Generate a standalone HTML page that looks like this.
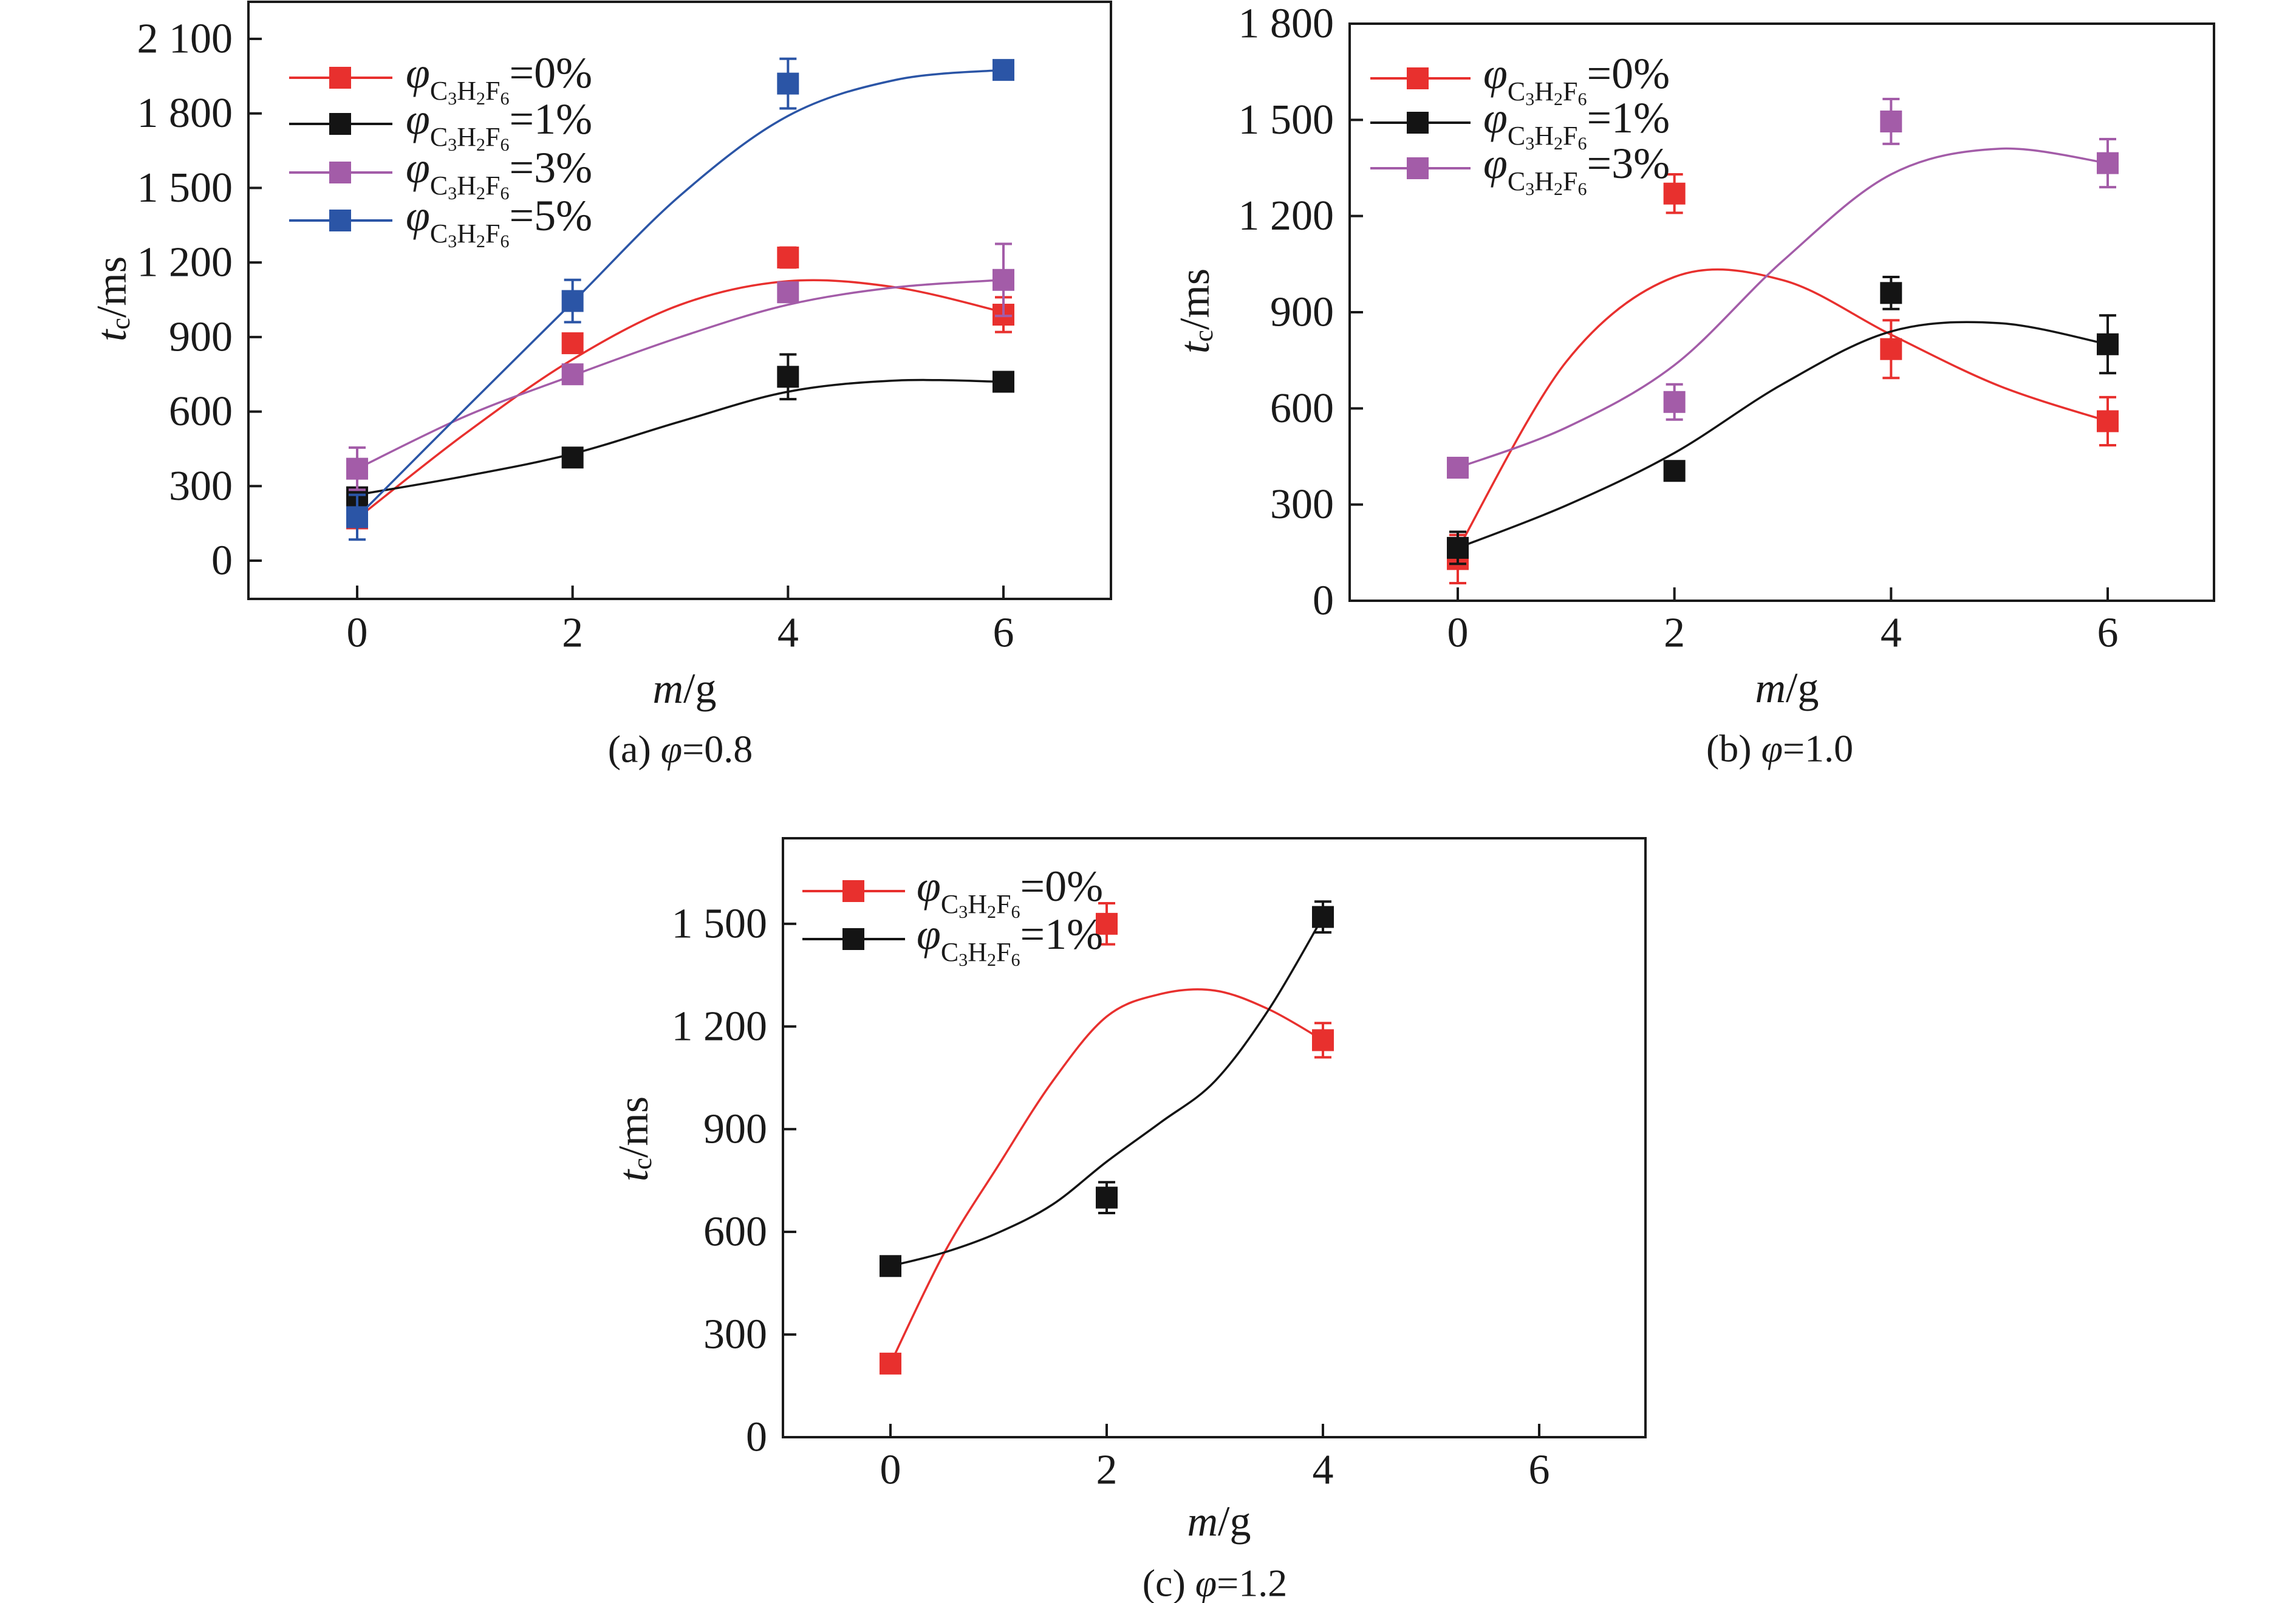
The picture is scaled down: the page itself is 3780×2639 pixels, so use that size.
<!DOCTYPE html>
<html><head><meta charset="utf-8"><style>
html,body{margin:0;padding:0;background:#fff;}
svg{display:block;font-family:"Liberation Serif",serif;}
</style></head><body>
<svg id="fig" width="3780" height="2639" viewBox="0 0 3780 2639" xmlns="http://www.w3.org/2000/svg"></svg>
<script>
// ---------- data ----------
const xCats = [0, 2, 4, 6];
const fitX = [0, 1, 2, 3, 4, 5, 6];
// panel a (phi=0.8)
const aRed = [170, 875, 1220, 990];      const aRedErr = [15, 20, 40, 70];
const aBlack = [255, 415, 740, 720];     const aBlackErr = [90, 20, 90, 20];
const aPurple = [370, 750, 1080, 1130];  const aPurpleErr = [85, 15, 30, 145];
const aBlue = [175, 1045, 1920, 1975];   const aBlueErr = [90, 85, 100, 10];
const aRedFit = [170, 510, 810, 1030, 1125, 1100, 1000];
const aBlackFit = [265, 340, 430, 560, 680, 725, 720];
const aPurpleFit = [370, 580, 745, 900, 1030, 1100, 1130];
const aBlueFit = [175, 610, 1040, 1470, 1790, 1935, 1975];
const aYTicks = [0, 300, 600, 900, 1200, 1500, 1800, 2100];
const aYLabels = ["0", "300", "600", "900", "1 200", "1 500", "1 800", "2 100"];
// panel b (phi=1.0)
const bRed = [130, 1270, 785, 560];      const bRedErr = [75, 60, 90, 75];
const bBlack = [165, 405, 960, 800];     const bBlackErr = [50, 15, 50, 90];
const bPurple = [415, 620, 1495, 1365];  const bPurpleErr = [15, 55, 70, 75];
const bRedFit = [160, 745, 1010, 1000, 830, 670, 560];
const bBlackFit = [165, 297, 461, 676, 840, 866, 800];
const bPurpleFit = [415, 540, 735, 1060, 1330, 1410, 1365];
const bYTicks = [0, 300, 600, 900, 1200, 1500, 1800];
const bYLabels = ["0", "300", "600", "900", "1 200", "1 500", "1 800"];
// panel c (phi=1.2)
const cCats = [0, 2, 4];
const cFitX = [0, 0.5, 1, 1.5, 2, 2.5, 3, 3.5, 4];
const cRed = [215, 1500, 1160];          const cRedErr = [10, 60, 50];
const cBlack = [500, 700, 1520];         const cBlackErr = [20, 45, 45];
const cRedFit = [215, 540, 795, 1040, 1229, 1295, 1305, 1250, 1160];
const cBlackFit = [500, 540, 598, 680, 805, 920, 1040, 1250, 1520];
const cYTicks = [0, 300, 600, 900, 1200, 1500];
const cYLabels = ["0", "300", "600", "900", "1 200", "1 500"];
const xTickLabels = ["0", "2", "4", "6"];
const legendPcts = ["0%", "1%", "3%", "5%"];

const RED = "#e8302e", BLACK = "#141414", PURPLE = "#a35ca8", BLUE = "#2b55a6";
const NS = "http://www.w3.org/2000/svg";
const svg = document.getElementById("fig");
function mk(tag, attrs, parent) {
  const e = document.createElementNS(NS, tag);
  for (const k in attrs) e.setAttribute(k, attrs[k]);
  (parent || svg).appendChild(e);
  return e;
}
function catmull(pts) {
  let d = "M" + pts[0][0] + "," + pts[0][1];
  for (let i = 0; i < pts.length - 1; i++) {
    const p0 = pts[Math.max(0, i - 1)], p1 = pts[i], p2 = pts[i + 1], p3 = pts[Math.min(pts.length - 1, i + 2)];
    const c1 = [p1[0] + (p2[0] - p0[0]) / 6, p1[1] + (p2[1] - p0[1]) / 6];
    const c2 = [p2[0] - (p3[0] - p1[0]) / 6, p2[1] - (p3[1] - p1[1]) / 6];
    d += " C" + c1[0] + "," + c1[1] + " " + c2[0] + "," + c2[1] + " " + p2[0] + "," + p2[1];
  }
  return d;
}

function panel(cfg) {
  const g = mk("g", {});
  
  
  const X = v => cfg.x0 + (v - 0) * (cfg.x6 - cfg.x0) / 6;
  const Y = v => cfg.y0 - v * (cfg.y0 - cfg.yTop) / cfg.vTop;
  const fr = mk("rect", {x: cfg.L, y: cfg.T, width: cfg.R - cfg.L, height: cfg.B - cfg.T, fill: "none", stroke: "#1a1a1a", "stroke-width": 4}, g);
  
  
  cfg.yTicks.forEach((v, i) => {
    const y = Y(v);
    const t = mk("line", {x1: cfg.L, x2: cfg.L + 22, y1: y, y2: y, stroke: "#1a1a1a", "stroke-width": 4}, g);
    
    
    const tx = mk("text", {x: cfg.L - 26, y: y, "text-anchor": "end", "dominant-baseline": "central", "font-size": 70, fill: "#1a1a1a"}, g);
    tx.textContent = cfg.yLabels[i];
    
    
  });
  xCats.forEach((v, i) => {
    const x = X(v);
    const t = mk("line", {x1: x, x2: x, y1: cfg.B, y2: cfg.B - 22, stroke: "#1a1a1a", "stroke-width": 4}, g);
    
    
    const tx = mk("text", {x: x, y: cfg.xLabY, "text-anchor": "middle", "dominant-baseline": "central", "font-size": 70, fill: "#1a1a1a"}, g);
    tx.textContent = xTickLabels[i];
    
    
  });
  const xt = mk("text", {x: (cfg.x0 + cfg.x6) / 2 + 7, y: cfg.xTitleY, "text-anchor": "middle", "dominant-baseline": "central", "font-size": 70, fill: "#1a1a1a"}, g);
  xt.innerHTML = '<tspan font-style="italic">m</tspan>/g';
  
  
  const yt = mk("text", {x: 0, y: 0, "text-anchor": "middle", "dominant-baseline": "central", "font-size": 70, fill: "#1a1a1a", transform: "translate(" + cfg.yTitleX + "," + cfg.yTitleY + ") rotate(-90)"}, g);
  yt.innerHTML = '<tspan font-style="italic">t</tspan><tspan font-size="44" dy="14">c</tspan><tspan dy="-14">/ms</tspan>';
  
  
  const cap = mk("text", {x: cfg.capX, y: cfg.capY, "text-anchor": "middle", "dominant-baseline": "central", "font-size": 64, fill: "#1a1a1a"}, g);
  cap.innerHTML = '(' + cfg.letter + ') <tspan font-style="italic">φ</tspan>=' + cfg.phi;
  
  
  cfg.series.forEach((s, si) => {
    const sg = mk("g", {}, g);
    
    
    const pts = s.fitX.map((xv, k) => [X(xv), Y(s.fit[k])]);
    const cur = mk("path", {d: catmull(pts), fill: "none", stroke: s.color, "stroke-width": 3.5}, sg);
    
    
    s.vals.forEach((v, k) => {
      const x = X(s.cats[k]), y = Y(v), e = s.err[k];
      const eb = mk("path", {d: "M" + x + "," + Y(v + e) + "V" + Y(v - e) + "M" + (x - 14) + "," + Y(v + e) + "h28M" + (x - 14) + "," + Y(v - e) + "h28", stroke: s.color, "stroke-width": 4, fill: "none"}, sg);
      
      
      const m = mk("rect", {x: x - 18, y: y - 18, width: 36, height: 36, fill: s.color}, sg);
      
      
    });
    const ly = cfg.legY[si];
    const lg = mk("g", {}, g);
    
    
    mk("line", {x1: cfg.legL, x2: cfg.legR, y1: ly, y2: ly, stroke: s.color, "stroke-width": 4}, lg);
    mk("rect", {x: cfg.legM - 18, y: ly - 18, width: 36, height: 36, fill: s.color}, lg);
    const lt = mk("text", {x: cfg.legT, y: ly + 16, "font-size": 72, fill: "#1a1a1a"}, lg);
    lt.innerHTML = '<tspan font-style="italic">φ</tspan><tspan font-size="44" dy="20">C</tspan><tspan font-size="30" dy="8">3</tspan><tspan font-size="44" dy="-8">H</tspan><tspan font-size="30" dy="8">2</tspan><tspan font-size="44" dy="-8">F</tspan><tspan font-size="30" dy="8">6</tspan><tspan dy="-28">=' + legendPcts[si] + '</tspan>';
  });
}

panel({name: "panel-a", letter: "a", phi: "0.8", L: 409, R: 1829, T: 3, B: 986, x0: 588, x6: 1652, y0: 923, yTop: 64, vTop: 2100,
  yTicks: aYTicks, yLabels: aYLabels, xLabY: 1042, xTitleY: 1134, yTitleX: 184, yTitleY: 492, capX: 1120, capY: 1233,
  legY: [128, 204, 284, 363], legL: 476, legR: 646, legM: 560, legT: 668,
  series: [
    {color: RED, cats: xCats, vals: aRed, err: aRedErr, fitX: fitX, fit: aRedFit},
    {color: BLACK, cats: xCats, vals: aBlack, err: aBlackErr, fitX: fitX, fit: aBlackFit},
    {color: PURPLE, cats: xCats, vals: aPurple, err: aPurpleErr, fitX: fitX, fit: aPurpleFit},
    {color: BLUE, cats: xCats, vals: aBlue, err: aBlueErr, fitX: fitX, fit: aBlueFit}]});
panel({name: "panel-b", letter: "b", phi: "1.0", L: 2222, R: 3645, T: 39, B: 989, x0: 2400, x6: 3470, y0: 989, yTop: 39, vTop: 1800,
  yTicks: bYTicks, yLabels: bYLabels, xLabY: 1042, xTitleY: 1133, yTitleX: 1967, yTitleY: 512, capX: 2930, capY: 1232,
  legY: [129, 202, 277], legL: 2256, legR: 2421, legM: 2334, legT: 2442,
  series: [
    {color: RED, cats: xCats, vals: bRed, err: bRedErr, fitX: fitX, fit: bRedFit},
    {color: BLACK, cats: xCats, vals: bBlack, err: bBlackErr, fitX: fitX, fit: bBlackFit},
    {color: PURPLE, cats: xCats, vals: bPurple, err: bPurpleErr, fitX: fitX, fit: bPurpleFit}]});
panel({name: "panel-c", letter: "c", phi: "1.2", L: 1289, R: 2709, T: 1380, B: 2366, x0: 1466, x6: 2534, y0: 2366, yTop: 1380, vTop: 1750,
  yTicks: cYTicks, yLabels: cYLabels, xLabY: 2420, xTitleY: 2505, yTitleX: 1043, yTitleY: 1875, capX: 2000, capY: 2606,
  legY: [1467, 1546], legL: 1321, legR: 1490, legM: 1405, legT: 1509,
  series: [
    {color: RED, cats: cCats, vals: cRed, err: cRedErr, fitX: cFitX, fit: cRedFit},
    {color: BLACK, cats: cCats, vals: cBlack, err: cBlackErr, fitX: cFitX, fit: cBlackFit}]});
</script>
</body></html>
